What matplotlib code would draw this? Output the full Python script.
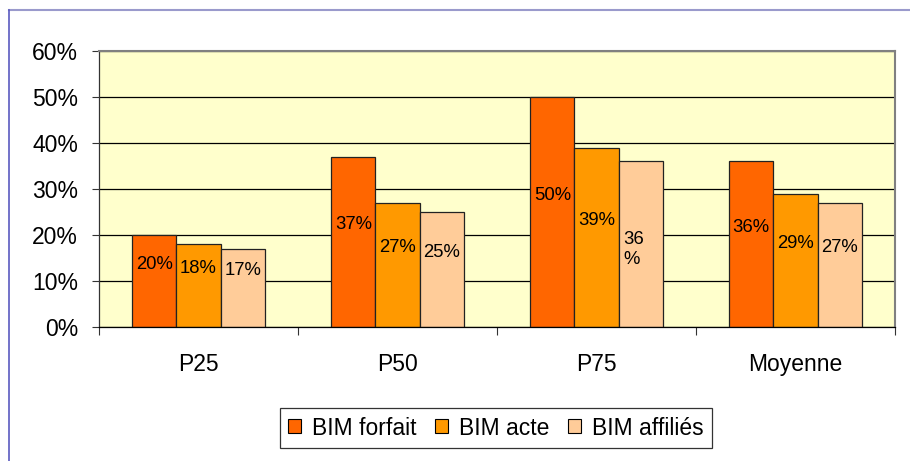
import matplotlib
matplotlib.use("Agg")
import matplotlib.pyplot as plt
from matplotlib.lines import Line2D
import numpy as np

plt.rcParams["font.family"] = ["Liberation Sans", "DejaVu Sans"]

categories = ["P25", "P50", "P75", "Moyenne"]
series_names = ["BIM forfait", "BIM acte", "BIM affiliés"]
bim_forfait = [20, 37, 50, 36]
bim_acte = [18, 27, 39, 29]
bim_affilies = [17, 25, 36, 27]
y_ticks = [0, 10, 20, 30, 40, 50, 60]

series = [bim_forfait, bim_acte, bim_affilies]
colors = ["#FF6600", "#FF9900", "#FFCC99"]

fig = plt.figure(figsize=(9.10, 4.61), dpi=100)
fig.patch.set_facecolor("white")

# outer chart frame (top and left edges)
fig.add_artist(Line2D([8.5 / 910, 1.0], [1 - 10 / 461, 1 - 10 / 461],
                      transform=fig.transFigure, color="#9A9ACC", lw=1.5))
fig.add_artist(Line2D([8.5 / 910, 8.5 / 910], [0.0, 1 - 10 / 461],
                      transform=fig.transFigure, color="#5A5AC0", lw=1.2))

ax = fig.add_axes([99 / 910, 1 - 327 / 461, (895 - 99) / 910, (327 - 51) / 461])
ax.set_facecolor("#FFFFCC")
ax.set_axisbelow(True)

x = np.arange(len(categories))
width = 2 / 9
offsets = [-width, 0, width]

for i, (vals, col, name) in enumerate(zip(series, colors, series_names)):
    bars = ax.bar(x + offsets[i], vals, width=width, color=col,
                  edgecolor="#222222", linewidth=0.9, label=name, zorder=2)
    for j, v in enumerate(vals):
        if i == 2 and j == 2:
            # narrow bar: label wraps onto two lines
            ax.annotate(f"{v}\n%", (x[j] + offsets[i], v / 2),
                        xytext=(-5, -4), textcoords="offset points",
                        ha="center", va="center", multialignment="left",
                        fontsize=13.3, linespacing=1.25, zorder=3)
        else:
            ax.annotate(f"{v}%", (x[j] + offsets[i], v / 2),
                        xytext=(0, 12.2), textcoords="offset points",
                        ha="center", va="center", fontsize=13.3, zorder=3)

ax.set_xlim(-0.5, len(categories) - 0.5)
ax.set_ylim(0, 60)

# y axis
ax.set_yticks(y_ticks)
ax.set_yticklabels([f"{t}%" for t in y_ticks], fontsize=16.5)
ax.yaxis.grid(True, color="black", linewidth=0.9)
ax.tick_params(axis="y", direction="out", length=5, width=0.8, pad=10,
               color="#333333")

# x axis: tick marks between groups, labels centred on groups
ax.set_xticks(np.arange(-0.5, len(categories), 1.0))
ax.set_xticklabels([])
ax.set_xticks(x, minor=True)
ax.set_xticklabels(categories, minor=True, fontsize=16.5)
ax.tick_params(axis="x", which="major", direction="out", length=6,
               width=0.8, color="#333333")
ax.tick_params(axis="x", which="minor", length=0, pad=19)

for side in ("top", "right"):
    ax.spines[side].set_color("#808080")
    ax.spines[side].set_linewidth(1.5)
ax.spines["left"].set_color("#333333")
ax.spines["left"].set_linewidth(0.9)
ax.spines["bottom"].set_color("black")
ax.spines["bottom"].set_linewidth(0.9)

leg = fig.legend(loc="center", bbox_to_anchor=(496 / 910, 1 - 428 / 461),
                 ncol=3, fontsize=16.5, frameon=True, fancybox=False,
                 edgecolor="black", handlelength=0.55, handleheight=0.55,
                 handletextpad=0.5, columnspacing=0.8, borderpad=0.35,
                 borderaxespad=0)
leg.get_frame().set_linewidth(0.9)
for h in leg.legend_handles:
    h.set_edgecolor("black")
    h.set_linewidth(0.8)

fig.savefig("out.png", dpi=100, facecolor="white")
